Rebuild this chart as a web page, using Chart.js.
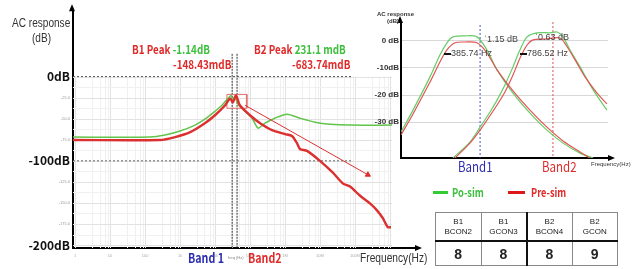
<!DOCTYPE html>
<html>
<head>
<meta charset="utf-8">
<script src="https://cdn.jsdelivr.net/npm/chart.js@4.4.1/dist/chart.umd.min.js"></script>
<style>
  html, body { margin: 0; padding: 0; background: #fff; }
  body { width: 640px; height: 269px; position: relative; overflow: hidden; font-family: "Noto Sans CJK KR", "Liberation Sans", sans-serif; }
  #mainWrap { position: absolute; left: 0; top: 0; width: 440px; height: 269px; }
  #insetWrap { position: absolute; left: 365px; top: 0; width: 275px; height: 185px; }
  .t { position: absolute; white-space: nowrap; line-height: 1; transform-origin: 0 50%; }
  .n { transform: scaleX(0.82); }
  .red { color: #e02a2a; }
  .green { color: #3cbf3c; }
  .blue { color: #2c2cb0; }
  .peak { font-size: 12px; font-weight: 700; }
  .lbl { font-family: "Liberation Sans", Arial, sans-serif; color: #333; }
  .dash { position: absolute; height: 3px; }
  table { position: absolute; left: 435px; top: 212px; width: 183px; table-layout: fixed; border-collapse: collapse; font-family: "Liberation Sans", Arial, sans-serif; }
  td { border: 1px solid #888; text-align: center; padding: 0; color: #222; overflow: hidden; }
  tr.head td { height: 27px; font-size: 8px; line-height: 10px; border-bottom: 2px solid #111; }
  tr.vals td { height: 23px; font-size: 14px; font-weight: 700; }
  td.split { border-right: 2px solid #111; }
</style>
</head>
<body>
<div id="mainWrap"><canvas id="mainChart" width="440" height="269"></canvas></div>
<div id="insetWrap"><canvas id="insetChart" width="275" height="185"></canvas></div>

<div class="t lbl" style="left:12px;top:17px;font-size:12px;transform:scaleX(0.84);">AC response</div>
<div class="t lbl" style="left:32px;top:32px;font-size:12px;transform:scaleX(0.84);">(dB)</div>
<div class="t peak n" style="left:132px;top:43px;"><span class="red">B1 Peak </span><span class="green">-1.14dB</span></div>
<div class="t peak n red" style="left:173px;top:58px;">-148.43mdB</div>
<div class="t peak n" style="left:254px;top:43px;"><span class="red">B2 Peak </span><span class="green">231.1 mdB</span></div>
<div class="t peak n red" style="left:292px;top:58px;">-683.74mdB</div>
<div class="t blue n" style="left:188px;top:251px;font-size:13px;font-weight:700;">Band 1</div>
<div class="t lbl" style="left:228px;top:256px;font-size:4px;color:#888;">freq (Hz)</div>
<div class="t red n" style="left:248px;top:251px;font-size:13px;font-weight:700;">Band2</div>
<div class="t lbl" style="left:360px;top:252px;font-size:12px;transform:scaleX(0.85);">Frequency(Hz)</div>

<div class="t lbl" style="left:377px;top:11px;font-size:6px;font-weight:700;">AC response</div>
<div class="t lbl" style="left:387px;top:18px;font-size:6px;font-weight:700;">(dB)</div>
<div class="t lbl" style="left:484px;top:35px;font-size:9px;color:#444;">ˈ1.15 dB</div>
<div class="t lbl" style="left:535px;top:33px;font-size:9px;color:#444;">ˈ0.63 dB</div>
<div class="dash" style="left:444px;top:53px;width:7px;height:2px;background:#111;"></div>
<div class="t lbl" style="left:451px;top:49px;font-size:9px;color:#444;">385.74 Hz</div>
<div class="dash" style="left:520px;top:53px;width:7px;height:2px;background:#111;"></div>
<div class="t lbl" style="left:527px;top:49px;font-size:9px;color:#444;">786.52 Hz</div>
<div class="t blue n" style="left:458px;top:159px;font-size:14px;">Band1</div>
<div class="t red n" style="left:542px;top:159px;font-size:14px;">Band2</div>
<div class="t lbl" style="left:591px;top:161px;font-size:6px;">Frequency(Hz)</div>

<div class="dash" style="left:433px;top:191px;width:15px;background:#33cc33;"></div>
<div class="t green" style="left:452px;top:186px;font-size:12px;font-weight:700;transform:scaleX(0.78);">Po-sim</div>
<div class="dash" style="left:508px;top:191px;width:17px;background:#dd1818;"></div>
<div class="t red" style="left:531px;top:186px;font-size:12px;font-weight:700;transform:scaleX(0.77);">Pre-sim</div>

<table id="conTable"><tr class="head"></tr><tr class="vals"></tr></table>

<script>
// main plot: x = log10(frequency) in decades, y = dB
const decadeTicks = [0, 1, 2, 3, 4, 5, 6, 7, 8, 9];
const decadeLabels = ['1', '10', '100', '1k', '10k', '100k', '1M', '10M', '100M', '1G'];
const dbTicks = [0, -25, -50, -75, -100, -125, -150, -175, -200];
const dbLabels = ['0dB', '-25.0', '-50.0', '-75.0', '-100dB', '-125.0', '-150.0', '-175.0', '-200dB'];

const posimX  = [-0.06, 2.14, 2.57, 3.0, 3.43, 3.71, 4.0, 4.2, 4.37, 4.46, 4.51, 4.57, 4.66, 4.86, 5.06, 5.23, 5.43, 5.71, 6.06, 6.43, 6.86, 7.29, 7.86, 9.06];
const posimDb = [-71.8, -71.8, -69.4, -64.7, -57.6, -50.6, -41.2, -34.1, -25.9, -22.4, -29.4, -23.5, -32.9, -41.2, -49.4, -61.2, -55.3, -49.4, -44.7, -49.4, -54.1, -56.5, -57.6, -57.6];

const presimX  = [-0.06, 2.43, 2.86, 3.29, 3.71, 4.0, 4.29, 4.43, 4.51, 4.6, 4.71, 5.0, 5.29, 5.63, 6.0, 6.2, 6.34, 6.43, 6.63, 7.0, 7.37, 7.66, 7.86, 8.14, 8.43, 8.63, 8.8, 8.94, 9.03];
const presimDb = [-75.3, -75.3, -71.8, -65.9, -55.3, -45.9, -34.1, -25.9, -30.6, -22.4, -34.1, -45.9, -55.3, -63.5, -68.2, -70.6, -78.8, -85.9, -88.2, -100, -114.1, -127.1, -130.6, -141.2, -150.6, -158.8, -168.2, -178.8, -178.8];

const trendX  = [4.86, 8.37];
const trendDb = [-34.1, -116.5];
const peakBoxX  = [4.34, 4.91, 4.91, 4.34, 4.34];
const peakBoxDb = [-21.2, -21.2, -37.6, -37.6, -21.2];
const refLineX = [-0.06, 7.91];
const markerX = [4.49, 4.63];
const markerDb = [27, -203];

// inset: x = relative frequency (0-100), y = dB
const insetDbTicks = [0, -10, -20, -30];
const insetDbLabels = ['0 dB', '-10dB', '-20 dB', '-30 dB'];

const b1PosimX  = [0, 5.8, 14.0, 18.8, 22.2, 25.1, 30.9, 36.7, 41.5, 46.4, 54.1, 62.3, 70.5, 78.3, 86.5, 92.8];
const b1PosimDb = [-33.7, -25.6, -13.3, -5.2, -0.7, 1.5, 1.9, 1.5, -3.3, -10.7, -19.3, -26.7, -33.0, -37.8, -41.5, -43.3];
const b1PresimX  = [0, 5.8, 14.0, 18.8, 22.2, 26.1, 30.9, 36.7, 41.5, 46.4, 54.1, 62.3, 70.5, 78.3, 86.5, 91.3];
const b1PresimDb = [-34.8, -27.0, -15.2, -7.8, -3.3, -0.7, -0.4, -0.7, -4.4, -10.7, -18.5, -25.6, -31.9, -37.0, -41.1, -43.3];
const b2PosimX  = [25.1, 33.3, 38.2, 43.0, 46.4, 50.2, 54.1, 57.5, 60.9, 65.7, 72.0, 75.4, 78.3, 81.6, 86.5, 92.8, 99.5];
const b2PosimDb = [-43.3, -37.4, -31.9, -26.3, -21.9, -16.3, -9.6, -3.3, 1.5, 3.0, 3.0, 3.3, 1.5, -3.3, -9.6, -18.1, -25.6];
const b2PresimX  = [26.1, 33.3, 38.2, 46.4, 50.2, 54.1, 57.5, 60.9, 63.8, 69.6, 76.8, 79.7, 84.1, 88.9, 94.7, 99.5];
const b2PresimDb = [-43.3, -37.8, -33.0, -23.7, -18.9, -12.6, -6.3, -1.5, 0.4, 0.7, 1.1, -1.5, -7.0, -13.3, -19.3, -23.3];
const band1X = 38.2;
const band2X = 73.4;

const tableHeads = [['B1', 'BCON2'], ['B1', 'GCON3'], ['B2', 'BCON4'], ['B2', 'GCON']];
const tableValues = [8, 8, 8, 9];

const GREEN = '#62c44a';
const RED = '#dc3030';

const pts = (xs, ys) => xs.map((x, i) => ({ x: x, y: ys[i] }));
const plain = { pointRadius: 0, fill: false, tension: 0 };

// table
const headRow = document.querySelector('tr.head');
const valRow = document.querySelector('tr.vals');
tableHeads.forEach((h, i) => {
    const td = document.createElement('td');
    td.innerHTML = h[0] + '<br>' + h[1];
    if (i === 1) td.className = 'split';
    headRow.appendChild(td);
    const vd = document.createElement('td');
    vd.textContent = tableValues[i];
    if (i === 1) vd.className = 'split';
    valRow.appendChild(vd);
});

function arrowHead(ctx, x, y, dir) {
    ctx.beginPath();
    if (dir === 'up') {
        ctx.moveTo(x, y - 6); ctx.lineTo(x - 3, y + 1); ctx.lineTo(x + 3, y + 1);
    } else {
        ctx.moveTo(x + 6, y); ctx.lineTo(x - 1, y - 3); ctx.lineTo(x - 1, y + 3);
    }
    ctx.closePath();
    ctx.fill();
}

const mainGrid = {
    id: 'mainGrid',
    beforeDatasetsDraw(chart) {
        const { ctx, chartArea } = chart;
        const { x, y } = chart.scales;
        const top = y.getPixelForValue(0);
        const bottom = chartArea.bottom;
        ctx.save();
        ctx.lineWidth = 1;
        for (let d = 0; d <= 9; d++) {
            for (let m = 1; m < 10; m += 2) {
                const v = d + Math.log10(m);
                if (v > x.max) continue;
                const px = Math.round(x.getPixelForValue(v)) + 0.5;
                ctx.strokeStyle = m === 1 ? '#e2e2e2' : '#f0f0f0';
                ctx.beginPath(); ctx.moveTo(px, top); ctx.lineTo(px, bottom); ctx.stroke();
            }
        }
        for (let v = 0; v >= -200; v -= 12.5) {
            const py = Math.round(y.getPixelForValue(v)) + 0.5;
            ctx.strokeStyle = v % 25 === 0 ? '#e2e2e2' : '#f0f0f0';
            ctx.beginPath(); ctx.moveTo(chartArea.left, py); ctx.lineTo(chartArea.right, py); ctx.stroke();
        }
        ctx.restore();
    },
    afterDraw(chart) {
        const { ctx, chartArea } = chart;
        ctx.save();
        ctx.fillStyle = '#000';
        ctx.strokeStyle = '#000';
        ctx.lineWidth = 2;
        ctx.beginPath();
        ctx.moveTo(chartArea.right, chartArea.bottom);
        ctx.lineTo(chartArea.right + 24, chartArea.bottom);
        ctx.stroke();
        arrowHead(ctx, chartArea.right + 24, chartArea.bottom, 'right');
        arrowHead(ctx, chartArea.left - 1, chartArea.top, 'up');
        ctx.restore();
    }
};

const isMajorDb = ctx => !!(ctx.tick && ctx.tick.value % 100 === 0);

new Chart(document.getElementById('mainChart'), {
    type: 'line',
    data: {
        datasets: [
            Object.assign({ data: pts(trendX, trendDb), borderColor: RED, borderWidth: 1, pointRadius: [0, 3], pointStyle: 'triangle', pointBackgroundColor: RED, pointBorderColor: RED }, { fill: false, tension: 0 }),
            Object.assign({ data: pts(presimX, presimDb), borderColor: RED, borderWidth: 2.4 }, plain, { tension: 0.25 }),
            Object.assign({ data: pts(posimX, posimDb), borderColor: GREEN, borderWidth: 1.5 }, plain, { tension: 0.25 }),
            Object.assign({ data: pts(peakBoxX, peakBoxDb), borderColor: '#e07070', borderWidth: 1 }, plain),
            Object.assign({ data: pts(refLineX, [0, 0]), borderColor: '#555', borderWidth: 1, borderDash: [2, 2] }, plain),
            Object.assign({ data: pts(refLineX, [-100, -100]), borderColor: '#666', borderWidth: 1, borderDash: [2, 2] }, plain),
            Object.assign({ data: pts([markerX[0], markerX[0]], markerDb), borderColor: '#333', borderWidth: 1, borderDash: [2, 1], clip: false }, plain),
            Object.assign({ data: pts([markerX[1], markerX[1]], markerDb), borderColor: '#333', borderWidth: 1, borderDash: [2, 1], clip: false }, plain)
        ]
    },
    options: {
        responsive: false,
        animation: false,
        events: [],
        layout: { autoPadding: false, padding: { left: 0, top: 8, right: 48, bottom: 0 } },
        plugins: { legend: { display: false }, tooltip: { enabled: false } },
        scales: {
            x: {
                type: 'linear', min: -0.06, max: 9.06,
                afterFit: s => { s.height = 21; },
                afterBuildTicks: s => { s.ticks = decadeTicks.map(v => ({ value: v })); },
                grid: { display: false, drawTicks: false },
                border: { color: '#000', width: 2 },
                ticks: { autoSkip: false, maxRotation: 0, padding: 5, color: '#aaa', font: { size: 4 },
                    callback: (v, i) => decadeLabels[i] }
            },
            y: {
                type: 'linear', min: -203.5, max: 78.8,
                afterFit: s => { s.width = 73; },
                afterBuildTicks: s => { s.ticks = dbTicks.map(v => ({ value: v })); },
                grid: { display: false, drawTicks: false },
                border: { color: '#000', width: 2 },
                ticks: { autoSkip: false, padding: 3,
                    color: ctx => (isMajorDb(ctx) ? '#111' : '#999'),
                    font: ctx => (isMajorDb(ctx)
                        ? { size: 12, weight: 'bold', family: '"Noto Sans CJK KR", sans-serif' }
                        : { size: 4, family: 'Liberation Sans' }),
                    callback: (v, i) => dbLabels[i] }
            }
        }
    },
    plugins: [mainGrid]
});

const insetAxes = {
    id: 'insetAxes',
    afterDraw(chart) {
        const { ctx, chartArea } = chart;
        ctx.save();
        ctx.fillStyle = '#000';
        arrowHead(ctx, chartArea.right + 1, chartArea.bottom, 'right');
        arrowHead(ctx, chartArea.left - 1, chartArea.top, 'up');
        ctx.restore();
    }
};

new Chart(document.getElementById('insetChart'), {
    type: 'line',
    data: {
        datasets: [
            Object.assign({ data: pts(b1PresimX, b1PresimDb), borderColor: '#e05555', borderWidth: 1.2 }, plain, { tension: 0.3 }),
            Object.assign({ data: pts(b2PresimX, b2PresimDb), borderColor: '#e05555', borderWidth: 1.2 }, plain, { tension: 0.3 }),
            Object.assign({ data: pts(b1PosimX, b1PosimDb), borderColor: '#66cc66', borderWidth: 1.2 }, plain, { tension: 0.3 }),
            Object.assign({ data: pts(b2PosimX, b2PosimDb), borderColor: '#66cc66', borderWidth: 1.2 }, plain, { tension: 0.3 }),
            Object.assign({ data: pts([band1X, band1X], [5.9, -43.3]), borderColor: '#4050d8', borderWidth: 1, borderDash: [2, 2] }, plain),
            Object.assign({ data: pts([band2X, band2X], [7, -43.3]), borderColor: '#e05050', borderWidth: 1, borderDash: [2, 2] }, plain)
        ]
    },
    options: {
        responsive: false,
        animation: false,
        events: [],
        layout: { autoPadding: false, padding: { left: 0, top: 22, right: 32, bottom: 0 } },
        plugins: { legend: { display: false }, tooltip: { enabled: false } },
        scales: {
            x: {
                type: 'linear', min: 0, max: 100,
                afterFit: s => { s.height = 27; },
                grid: { display: false, drawTicks: false },
                border: { color: '#000', width: 2 },
                ticks: { display: false }
            },
            y: {
                type: 'linear', min: -43.3, max: 7,
                afterFit: s => { s.width = 36; },
                afterBuildTicks: s => { s.ticks = insetDbTicks.map(v => ({ value: v })); },
                grid: { color: '#d8d8d8', drawTicks: false, lineWidth: 1 },
                border: { color: '#000', width: 2 },
                ticks: { autoSkip: false, padding: 2, color: '#333',
                    font: { size: 8, weight: 'bold', family: 'Liberation Sans' },
                    callback: (v, i) => insetDbLabels[i] }
            }
        }
    },
    plugins: [insetAxes]
});
</script>
</body>
</html>
